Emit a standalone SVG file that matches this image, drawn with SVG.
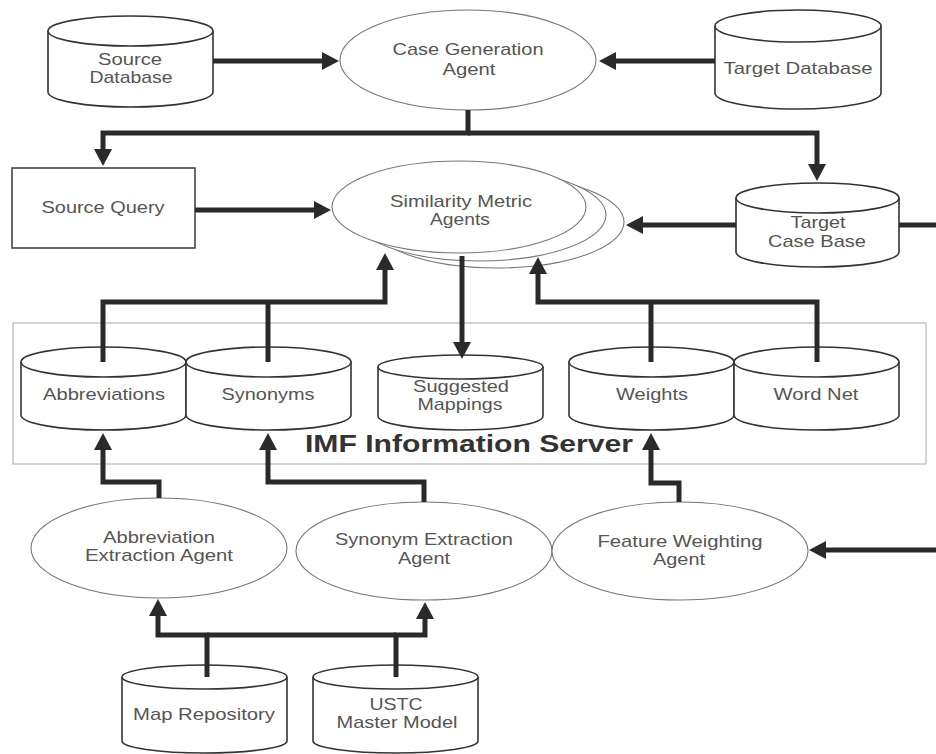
<svg xmlns="http://www.w3.org/2000/svg" width="936" height="754" viewBox="0 0 936 754">
<style>
.cyl{fill:#fff;stroke:#333;stroke-width:1.6}
.ell{fill:#fff;stroke:#777;stroke-width:1.1}
.box{fill:#fff;stroke:#444;stroke-width:1.6}
.srv{fill:none;stroke:#aaa;stroke-width:1}
.t{font-family:"Liberation Sans",Arial,sans-serif;font-size:17px;fill:#555;text-anchor:middle}
.lbl{font-family:"Liberation Sans",Arial,sans-serif;font-size:23px;font-weight:bold;fill:#333;text-anchor:middle}
.c{fill:none;stroke:#2a2a2a;stroke-width:5;stroke-linejoin:miter}
.ca{fill:none;stroke:#2a2a2a;stroke-width:5;stroke-linejoin:miter;marker-end:url(#ah)}
</style>
<defs>
<marker id="ah" viewBox="0 0 17 18" refX="1" refY="9" markerWidth="17" markerHeight="18" markerUnits="userSpaceOnUse" orient="auto">
<path d="M0,0 L17,9 L0,18 Z" fill="#2a2a2a"/>
</marker>
</defs>

<g id="imf-server">
<rect class="srv" x="13" y="323" width="913" height="141"/>
<text class="lbl" x="469" y="452" textLength="328" lengthAdjust="spacingAndGlyphs">IMF Information Server</text>
</g>

<g id="source-database">
<path class="cyl" d="M48,31 V92 A82.5,15 0 0 0 213,92 V31"/>
<ellipse class="cyl" cx="130.5" cy="31" rx="82.5" ry="15"/>
<text class="t" x="130" y="65" textLength="64" lengthAdjust="spacingAndGlyphs">Source</text>
<text class="t" x="131" y="83" textLength="83" lengthAdjust="spacingAndGlyphs">Database</text>
</g>

<g id="case-generation-agent">
<ellipse class="ell" cx="468" cy="60" rx="128" ry="50"/>
<text class="t" x="468" y="55" textLength="151" lengthAdjust="spacingAndGlyphs">Case Generation</text>
<text class="t" x="469" y="75" textLength="53" lengthAdjust="spacingAndGlyphs">Agent</text>
</g>

<g id="target-database">
<path class="cyl" d="M715,26 V93 A83,16 0 0 0 881,93 V26"/>
<ellipse class="cyl" cx="798" cy="26" rx="83" ry="16"/>
<text class="t" x="798" y="74" textLength="149" lengthAdjust="spacingAndGlyphs">Target Database</text>
</g>

<g id="source-query">
<rect class="box" x="12" y="168" width="183" height="80"/>
<text class="t" x="103" y="213" textLength="123" lengthAdjust="spacingAndGlyphs">Source Query</text>
</g>

<g id="similarity-metric-agents">
<ellipse class="ell" cx="497" cy="222" rx="127" ry="46"/>
<ellipse class="ell" cx="479" cy="215" rx="127" ry="46"/>
<ellipse class="ell" cx="459" cy="207" rx="127" ry="46"/>
<text class="t" x="461" y="207" textLength="142" lengthAdjust="spacingAndGlyphs">Similarity Metric</text>
<text class="t" x="460" y="225" textLength="60" lengthAdjust="spacingAndGlyphs">Agents</text>
</g>

<g id="target-case-base">
<path class="cyl" d="M736,198 V252 A81.5,15 0 0 0 899,252 V198"/>
<ellipse class="cyl" cx="817.5" cy="198" rx="81.5" ry="15"/>
<text class="t" x="818" y="228" textLength="55" lengthAdjust="spacingAndGlyphs">Target</text>
<text class="t" x="817" y="247" textLength="98" lengthAdjust="spacingAndGlyphs">Case Base</text>
</g>

<g id="abbreviations">
<path class="cyl" d="M21,362 V415 A82.5,15 0 0 0 186,415 V362"/>
<ellipse class="cyl" cx="103.5" cy="362" rx="82.5" ry="15"/>
<text class="t" x="104" y="400" textLength="122" lengthAdjust="spacingAndGlyphs">Abbreviations</text>
</g>

<g id="synonyms">
<path class="cyl" d="M186,362 V415 A82.5,15 0 0 0 351,415 V362"/>
<ellipse class="cyl" cx="268.5" cy="362" rx="82.5" ry="15"/>
<text class="t" x="268" y="400" textLength="93" lengthAdjust="spacingAndGlyphs">Synonyms</text>
</g>

<g id="suggested-mappings">
<path class="cyl" d="M378,367 V416 A82.5,14 0 0 0 543,416 V367"/>
<ellipse class="cyl" cx="460.5" cy="367" rx="82.5" ry="12"/>
<text class="t" x="461" y="392" textLength="96" lengthAdjust="spacingAndGlyphs">Suggested</text>
<text class="t" x="460" y="410" textLength="85" lengthAdjust="spacingAndGlyphs">Mappings</text>
</g>

<g id="weights">
<path class="cyl" d="M569,362 V415 A82.5,15 0 0 0 734,415 V362"/>
<ellipse class="cyl" cx="651.5" cy="362" rx="82.5" ry="15"/>
<text class="t" x="652" y="400" textLength="72" lengthAdjust="spacingAndGlyphs">Weights</text>
</g>

<g id="word-net">
<path class="cyl" d="M734,362 V415 A82.5,15 0 0 0 899,415 V362"/>
<ellipse class="cyl" cx="816.5" cy="362" rx="82.5" ry="15"/>
<text class="t" x="816" y="400" textLength="85" lengthAdjust="spacingAndGlyphs">Word Net</text>
</g>

<g id="abbreviation-extraction-agent">
<ellipse class="ell" cx="159" cy="548" rx="128" ry="50"/>
<text class="t" x="159" y="543" textLength="112" lengthAdjust="spacingAndGlyphs">Abbreviation</text>
<text class="t" x="159" y="561" textLength="148" lengthAdjust="spacingAndGlyphs">Extraction Agent</text>
</g>

<g id="synonym-extraction-agent">
<ellipse class="ell" cx="424" cy="551" rx="128" ry="49"/>
<text class="t" x="424" y="545" textLength="178" lengthAdjust="spacingAndGlyphs">Synonym Extraction</text>
<text class="t" x="424" y="564" textLength="52" lengthAdjust="spacingAndGlyphs">Agent</text>
</g>

<g id="feature-weighting-agent">
<ellipse class="ell" cx="680" cy="551" rx="128" ry="49"/>
<text class="t" x="680" y="547" textLength="165" lengthAdjust="spacingAndGlyphs">Feature Weighting</text>
<text class="t" x="679" y="565" textLength="52" lengthAdjust="spacingAndGlyphs">Agent</text>
</g>

<g id="map-repository">
<path class="cyl" d="M122,677 V741 A82.5,12 0 0 0 287,741 V677"/>
<ellipse class="cyl" cx="204.5" cy="677" rx="82.5" ry="12"/>
<text class="t" x="204" y="720" textLength="142" lengthAdjust="spacingAndGlyphs">Map Repository</text>
</g>

<g id="ustc-master-model">
<path class="cyl" d="M313,677 V741 A82.5,12 0 0 0 478,741 V677"/>
<ellipse class="cyl" cx="395.5" cy="677" rx="82.5" ry="12"/>
<text class="t" x="396" y="710" textLength="53" lengthAdjust="spacingAndGlyphs">USTC</text>
<text class="t" x="397" y="728" textLength="121" lengthAdjust="spacingAndGlyphs">Master Model</text>
</g>

<g id="connectors">
<path class="ca" d="M213,61 H323"/>
<path class="ca" d="M715,61 H615"/>
<path class="ca" d="M468,110 V133 H103 V150"/>
<path class="ca" d="M468,133 H817 V165"/>
<path class="ca" d="M195,210 H315"/>
<path class="ca" d="M736,225 H642"/>
<path class="c" d="M899,225 H936"/>
<path class="ca" d="M462,256 V343"/>
<path class="ca" d="M103,362 V302 H385 V269"/>
<path class="c" d="M268,362 V302"/>
<path class="ca" d="M817,362 V302 H538 V273"/>
<path class="c" d="M651,362 V302"/>
<path class="ca" d="M159,498 V482 H103 V449"/>
<path class="ca" d="M424,502 V482 H268 V449"/>
<path class="ca" d="M679,502 V483 H651 V449"/>
<path class="ca" d="M207,677 V635 H158 V615"/>
<path class="ca" d="M396,677 V635 H425 V618"/>
<path class="c" d="M207,635 H396"/>
<path class="ca" d="M936,550 H825"/>
</g>
</svg>
